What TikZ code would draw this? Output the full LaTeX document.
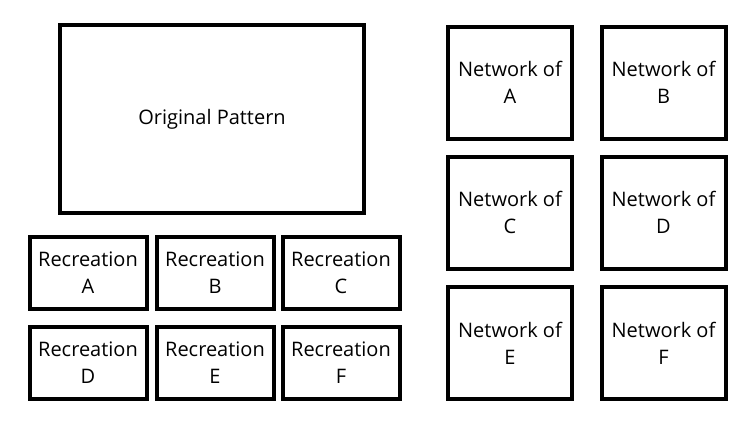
\documentclass[tikz,border=0pt]{standalone}
\usepackage{fontspec}
\setmainfont{Open Sans}
\begin{document}
\begin{tikzpicture}[x=0.75pt,y=-0.75pt]
		\tikzstyle{box} = [rectangle, draw=black, line width=3pt, align=center, font=\fontsize{15}{20.25}\selectfont, inner sep=0pt]
		\tikzstyle{rec} = [box, minimum width=117*0.75pt, minimum height=72*0.75pt]
		\tikzstyle{net} = [box, minimum width=124*0.75pt, minimum height=112*0.75pt]
		\useasboundingbox (0,0) rectangle (755,422);
		\node [box, minimum width=304*0.75pt, minimum height=188*0.75pt] (orig) at (212,119) {Original Pattern};
		\node [rec] (recA) at (88,273) {Recreation\\A};
		\node [rec] (recB) at (215,273) {Recreation\\B};
		\node [rec] (recC) at (341,273) {Recreation\\C};
		\node [rec] (recD) at (88,362.5) {Recreation\\D};
		\node [rec] (recE) at (215,362.5) {Recreation\\E};
		\node [rec] (recF) at (341,362.5) {Recreation\\F};
		\node [net] (netA) at (510,82.5) {Network of\\A};
		\node [net] (netB) at (663.5,82.5) {Network of\\B};
		\node [net] (netC) at (510,212.5) {Network of\\C};
		\node [net] (netD) at (663.5,212.5) {Network of\\D};
		\node [net] (netE) at (510,343) {Network of\\E};
		\node [net] (netF) at (663.5,343) {Network of\\F};
	\end{tikzpicture}
\end{document}
